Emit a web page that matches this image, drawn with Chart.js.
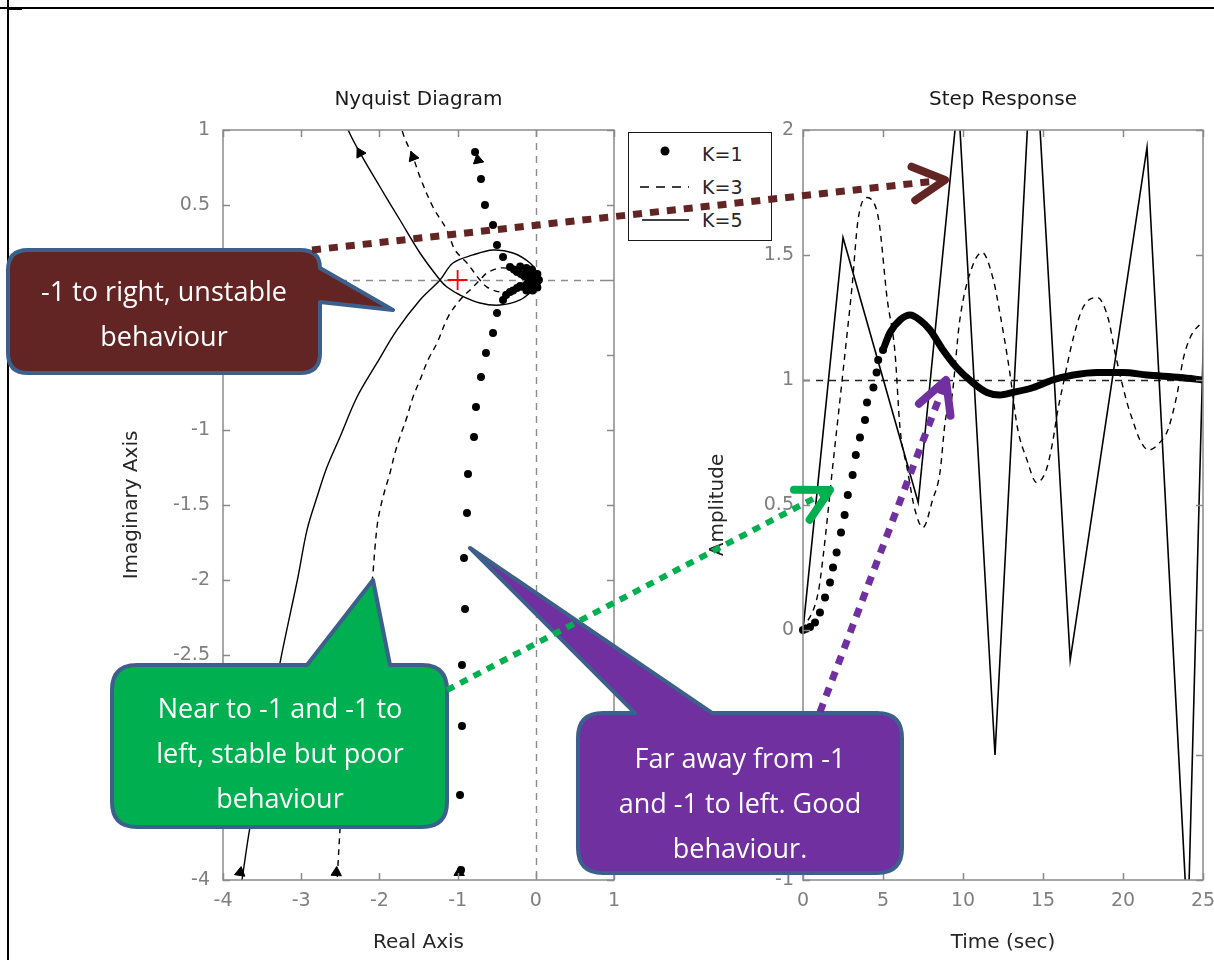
<!DOCTYPE html>
<html>
<head>
<meta charset="utf-8">
<script src="https://cdn.jsdelivr.net/npm/chart.js"></script>
<style>
html,body{margin:0;padding:0;background:#fff;}
body{width:1214px;height:960px;position:relative;overflow:hidden;font-family:"DejaVu Sans",sans-serif;}
canvas{position:absolute;top:0;}
#nyq{left:0;}
#step{left:640px;}
.fr{position:absolute;background:#000;}
#legend{position:absolute;left:628px;top:132px;width:142px;height:107px;border:1.5px solid #1a1a1a;background:#fff;z-index:2;}
#legend span{position:absolute;left:73px;font-size:19px;line-height:22px;color:#262626;font-family:"DejaVu Sans",sans-serif;}
#ov{position:absolute;left:0;top:0;z-index:3;}
#ov text{font-family:"Open Sans",sans-serif;font-size:27px;fill:#fff;text-anchor:middle;dominant-baseline:central;}
</style>
</head>
<body>
<div class="fr" style="left:0;top:7px;width:1214px;height:2px;"></div>
<div class="fr" style="left:7px;top:0;width:2px;height:960px;"></div>
<div class="fr" style="left:8px;top:9px;width:14px;height:1px;"></div>

<canvas id="nyq" width="640" height="960"></canvas>
<canvas id="step" width="574" height="960"></canvas>

<div id="legend">
  <svg width="142" height="107" style="position:absolute;left:0;top:0">
    <circle cx="36" cy="18" r="4.5" fill="#000"/>
    <line x1="11" y1="54" x2="60" y2="54" stroke="#000" stroke-width="1.5" stroke-dasharray="9 7"/>
    <line x1="13" y1="87" x2="60" y2="87" stroke="#000" stroke-width="1.5"/>
  </svg>
  <span style="top:10px">K=1</span>
  <span style="top:43px">K=3</span>
  <span style="top:76px">K=5</span>
</div>

<svg id="ov" width="1214" height="960">
  <g stroke="#3C5F8C" stroke-width="4" stroke-linejoin="round">
    <path fill="#632523" d="M28,250 H300 Q320,250 320,268 L393,310 L320,302 V353 Q320,373 300,373 H28 Q8,373 8,353 V270 Q8,250 28,250 Z"/>
    <path fill="#00B050" d="M137,665 H307 L373,580 L390,665 H422 Q447,665 447,690 V802 Q447,827 422,827 H137 Q112,827 112,802 V690 Q112,665 137,665 Z"/>
    <path fill="#7030A0" d="M603,713 H635 L470,548 L712,713 H877 Q902,713 902,738 V848 Q902,873 877,873 H603 Q578,873 578,848 V738 Q578,713 603,713 Z"/>
  </g>
  <text x="164" y="290">-1 to right, unstable</text>
  <text x="164" y="335">behaviour</text>
  <text x="280" y="707">Near to -1 and -1 to</text>
  <text x="280" y="752">left, stable but poor</text>
  <text x="280" y="797">behaviour</text>
  <text x="740" y="757">Far away from -1</text>
  <text x="740" y="802">and -1 to left. Good</text>
  <text x="740" y="847">behaviour.</text>
  <g id="arrows"></g>
</svg>

<script>
// ---------------- Nyquist data (Real, Imag) ----------------
const nyqK1Re = [-0.777,-0.701,-0.650,-0.547,-0.496,-0.419,-0.330,-0.280,-0.240,-0.190,-0.150,-0.110,-0.074,-0.040,-0.010,0.010,0.020,0.005,-0.020,-0.050,-0.090,-0.125,-0.180,-0.240,-0.290,-0.330,-0.380,-0.419,-0.496,-0.547,-0.637,-0.701,-0.765,-0.790,-0.867,-0.880,-0.918,-0.905,-0.944,-0.944,-0.969,-0.956,-0.060,-0.120,-0.030,-0.080,-0.200,-0.120,-0.050,0.020,0.040,0.020,-0.040,-0.120,-0.200,-0.150,-0.100];
const nyqK1Im = [0.853,0.673,0.500,0.367,0.233,0.153,0.087,0.070,0.053,0.040,0.027,0.018,0.007,0.004,0.000,0.010,-0.010,-0.030,-0.020,-0.030,-0.030,-0.033,-0.045,-0.053,-0.070,-0.080,-0.100,-0.133,-0.220,-0.353,-0.487,-0.647,-0.847,-1.047,-1.293,-1.553,-1.853,-2.193,-2.567,-2.973,-3.433,-3.933,0.030,0.060,-0.050,0.000,0.090,0.080,0.070,0.040,0.000,-0.050,-0.070,-0.070,-0.040,0.030,-0.020];

const nyqK3Re = [-2.56,-2.54,-2.504,-2.44,-2.248,-2.145,-2.082,-2.056,-2.018,-1.954,-1.865,-1.801,-1.737,-1.647,-1.570,-1.481,-1.378,-1.263,-1.123,-0.969,-0.803,-0.714,-0.624,-0.458,-0.266,-0.074,0.0,-0.074,-0.266,-0.458,-0.624,-0.714,-0.880,-1.033,-1.136,-1.315,-1.481,-1.570,-1.711,-1.75];
const nyqK3Im = [-4.2,-4.0,-3.667,-3.2,-2.567,-2.267,-1.953,-1.78,-1.60,-1.447,-1.287,-1.153,-1.047,-0.913,-0.78,-0.667,-0.533,-0.42,-0.247,-0.133,-0.047,0.0,0.047,0.08,0.067,0.027,0.0,-0.027,-0.067,-0.08,-0.047,0.0,0.113,0.2,0.333,0.487,0.687,0.82,1.0,1.2];

const nyqK5Re = [-3.80,-3.744,-3.655,-3.271,-3.041,-2.926,-2.798,-2.670,-2.504,-2.286,-2.031,-1.775,-1.481,-1.225,-1.059,-0.803,-0.547,-0.292,-0.074,0.02,0.02,-0.036,-0.202,-0.458,-0.714,-0.969,-1.136,-1.225,-1.481,-1.737,-1.992,-2.248,-2.40,-2.55];
const nyqK5Im = [-4.15,-3.953,-3.647,-2.553,-1.98,-1.667,-1.447,-1.247,-1.047,-0.78,-0.553,-0.333,-0.133,0.0,0.113,0.167,0.2,0.18,0.113,0.04,-0.03,-0.067,-0.133,-0.167,-0.153,-0.1,-0.047,0.0,0.18,0.40,0.62,0.847,1.0,1.2];

const nyqArrowRe  = [-2.248,-1.570,-0.739,-3.78,-2.55,-0.98];
const nyqArrowIm  = [0.847,0.82,0.80,-3.95,-3.95,-3.95];
const nyqArrowRot = [-29,-21,-11,9,3,0];

const criticalRe = [-1];
const criticalIm = [0];

const nyqReTicks = [-4,-3,-2,-1,0,1];
const nyqImTicks = [1,0.5,0,-0.5,-1,-1.5,-2,-2.5,-3,-3.5,-4];
const nyqRefRe = [0];
const nyqRefIm = [0];

// ---------------- Step response data (time, amplitude) ----------------
const stepK1DotT = [0,0.2,0.44,0.75,1.06,1.375,1.69,1.875,2.1,2.375,2.6,2.8,3.1,3.3,3.56,3.875,4.0,4.4,4.6,4.7,5.0];
const stepK1DotY = [0.0,0.005,0.012,0.03,0.07,0.13,0.19,0.25,0.31,0.39,0.46,0.54,0.62,0.70,0.77,0.84,0.91,0.97,1.03,1.08,1.12];
const stepK1T = [5.0,5.44,6.06,6.7,7.3,7.94,8.75,9.6,10.6,11.5,12.3,13.1,14.4,15.6,16.9,18.4,20.0,21.5,23.6,25];
const stepK1Y = [1.12,1.19,1.24,1.26,1.24,1.20,1.12,1.05,0.99,0.95,0.94,0.95,0.97,1.0,1.02,1.03,1.03,1.02,1.01,1.0];

const stepK3T = [0,0.95,1.25,1.9,2.31,2.73,3.06,3.44,4.0,4.6,4.8,5.25,5.75,6.06,6.5,7.0,7.5,8.1,8.56,8.9,9.3,9.8,10.56,11.2,11.9,12.3,12.9,13.4,14.0,14.6,15.2,15.6,15.9,16.25,16.9,17.5,18.4,19.1,19.5,20.25,20.6,21.06,21.6,22.3,22.8,23.4,23.75,24.2,24.9];
const stepK3Y = [0,0.15,0.29,0.68,0.92,1.17,1.37,1.64,1.73,1.68,1.61,1.33,1.11,0.81,0.65,0.48,0.41,0.52,0.63,0.84,0.93,1.24,1.45,1.51,1.40,1.27,1.04,0.81,0.68,0.59,0.64,0.75,0.87,0.98,1.17,1.29,1.33,1.24,1.11,0.91,0.84,0.76,0.72,0.75,0.80,0.95,1.08,1.17,1.23];

const stepK5T = [0,2.5,7.2,9.7,12.0,14.4,16.7,21.5,24.05,26.4];
const stepK5Y = [0,1.57,0.51,2.13,-0.5,2.47,-0.12,1.93,-1.2,4.5];

const stepTTicks = [0,5,10,15,20,25];
const stepYTicks = [-1,-0.5,0,0.5,1,1.5,2];
const stepRefT = [];
const stepRefY = [1];

// ---------------- helpers ----------------
const zip = (xs, ys) => xs.map((v, i) => ({x: v, y: ys[i]}));
const FONT = '"DejaVu Sans", sans-serif';
Chart.defaults.font.family = FONT;

const boxFrame = {
  id: 'boxFrame',
  beforeDatasetsDraw(chart, _a, o) {
    const {ctx, chartArea: a, scales: {x, y}} = chart;
    ctx.save();
    ctx.beginPath(); ctx.rect(a.left, a.top, a.width, a.height); ctx.clip();
    ctx.setLineDash([7, 6]);
    ctx.lineWidth = 1.4;
    ctx.strokeStyle = o.refColor;
    for (const v of o.refX) {
      const p = Math.round(x.getPixelForValue(v)) + 0.5;
      ctx.beginPath(); ctx.moveTo(p, a.top); ctx.lineTo(p, a.bottom); ctx.stroke();
    }
    for (const v of o.refY) {
      const p = Math.round(y.getPixelForValue(v)) + 0.5;
      ctx.beginPath(); ctx.moveTo(a.left, p); ctx.lineTo(a.right, p); ctx.stroke();
    }
    ctx.restore();
  },
  afterDatasetsDraw(chart) {
    const {ctx, chartArea: a, scales: {x, y}} = chart;
    const L = 7;
    ctx.save();
    ctx.strokeStyle = '#8a8a8a';
    ctx.lineWidth = 1.5;
    ctx.strokeRect(a.left, a.top, a.width, a.height);
    ctx.beginPath();
    for (const t of x.ticks) {
      const p = Math.round(x.getPixelForValue(t.value)) + 0.5;
      ctx.moveTo(p, a.bottom); ctx.lineTo(p, a.bottom - L);
      ctx.moveTo(p, a.top); ctx.lineTo(p, a.top + L);
    }
    for (const t of y.ticks) {
      const p = Math.round(y.getPixelForValue(t.value)) + 0.5;
      ctx.moveTo(a.left, p); ctx.lineTo(a.left + L, p);
      ctx.moveTo(a.right, p); ctx.lineTo(a.right - L, p);
    }
    ctx.stroke();
    ctx.restore();
  }
};

function axis(min, max, ticksArr, fit, title, tickPad, titlePad) {
  return {
    type: 'linear', min, max,
    afterBuildTicks: s => { s.ticks = ticksArr.map(v => ({value: v})); },
    afterFit: s => { fit(s); s.paddingLeft = 0; s.paddingRight = 0; s.paddingTop = 0; s.paddingBottom = 0; },
    grid: {display: false, drawTicks: false},
    border: {display: false},
    ticks: {color: '#7f7f7f', font: {size: 19}, padding: tickPad, maxRotation: 0, autoSkip: false,
            callback: v => String(v)},
    title: {display: true, text: title, color: '#262626', font: {size: 20}, padding: titlePad}
  };
}

function baseOptions(titleText, padRight, xs, ys, frameOpts) {
  return {
    responsive: false, animation: false, events: [],
    layout: {padding: {left: 0, right: padRight, top: 70, bottom: 0}},
    plugins: {
      legend: {display: false},
      tooltip: {enabled: false},
      title: {display: true, text: titleText, fullSize: false, color: '#1a1a1a',
              font: {size: 20, weight: 'normal'}, padding: {top: 18, bottom: 18}},
      boxFrame: frameOpts
    },
    scales: {x: xs, y: ys}
  };
}

// ---------------- Nyquist chart ----------------
new Chart(document.getElementById('nyq'), {
  type: 'scatter',
  data: {
    datasets: [
      {label: 'K=1', data: zip(nyqK1Re, nyqK1Im), showLine: false, pointRadius: 4, pointHoverRadius: 4,
       backgroundColor: '#000', borderColor: '#000', borderWidth: 0},
      {label: 'K=3', data: zip(nyqK3Re, nyqK3Im), showLine: true, pointRadius: 0, pointHoverRadius: 0,
       borderColor: '#000', borderWidth: 1.4, borderDash: [6, 5], tension: 0.35, fill: false},
      {label: 'K=5', data: zip(nyqK5Re, nyqK5Im), showLine: true, pointRadius: 0, pointHoverRadius: 0,
       borderColor: '#000', borderWidth: 1.4, tension: 0.35, fill: false},
      {label: 'dir', data: zip(nyqArrowRe, nyqArrowIm), showLine: false, pointStyle: 'triangle',
       pointRadius: 6, pointRotation: nyqArrowRot, backgroundColor: '#000', borderColor: '#000', borderWidth: 1, clip: false},
      {label: 'critical', data: zip(criticalRe, criticalIm), showLine: false, pointStyle: 'cross',
       pointRadius: 10, borderColor: '#ff0000', borderWidth: 1.8}
    ]
  },
  options: baseOptions('Nyquist Diagram', 26,
    axis(-4, 1, nyqReTicks, s => { s.height = 80; }, 'Real Axis', 10, {top: 0, bottom: 5}),
    axis(-4, 1, nyqImTicks, s => { s.width = 223; }, 'Imaginary Axis', 13, {top: 120, bottom: 0}),
    {refX: nyqRefRe, refY: nyqRefIm, refColor: '#8c8c8c'}),
  plugins: [boxFrame]
});

// ---------------- Step response chart ----------------
new Chart(document.getElementById('step'), {
  type: 'scatter',
  data: {
    datasets: [
      {label: 'K=1', data: zip(stepK1DotT, stepK1DotY), showLine: false, pointRadius: 4, pointHoverRadius: 4,
       backgroundColor: '#000', borderWidth: 0, clip: false},
      {label: 'K=1 (dense)', data: zip(stepK1T, stepK1Y), showLine: true, pointRadius: 0, pointHoverRadius: 0,
       borderColor: '#000', borderWidth: 7, cubicInterpolationMode: 'monotone', fill: false},
      {label: 'K=3', data: zip(stepK3T, stepK3Y), showLine: true, pointRadius: 0, pointHoverRadius: 0,
       borderColor: '#000', borderWidth: 1.4, borderDash: [6, 5], cubicInterpolationMode: 'monotone', fill: false},
      {label: 'K=5', data: zip(stepK5T, stepK5Y), showLine: true, pointRadius: 0, pointHoverRadius: 0,
       borderColor: '#000', borderWidth: 1.6, tension: 0, fill: false}
    ]
  },
  options: baseOptions('Step Response', 11,
    axis(0, 25, stepTTicks, s => { s.height = 80; }, 'Time (sec)', 10, {top: 0, bottom: 5}),
    axis(-1, 2, stepYTicks, s => { s.width = 163; }, 'Amplitude', 9, {top: 66, bottom: 0}),
    {refX: stepRefT, refY: stepRefY, refColor: '#222'}),
  plugins: [boxFrame]
});

// ---------------- annotation arrows (overlay) ----------------
(function () {
  const NS = 'http://www.w3.org/2000/svg';
  const g = document.getElementById('arrows');
  const arrows = [
    {from: [312, 250], to: [945, 180], color: '#632523', w: 7, dash: '9 8'},
    {from: [447, 690], to: [830, 490], color: '#00B050', w: 6, dash: '8 7'},
    {from: [820, 712], to: [946, 380], color: '#7030A0', w: 7, dash: '9 8'}
  ];
  for (const a of arrows) {
    const [x1, y1] = a.from, [x2, y2] = a.to;
    const ang = Math.atan2(y1 - y2, x1 - x2);
    const len = Math.hypot(x2 - x1, y2 - y1);
    const ex = x1 + (x2 - x1) * (len - 8) / len, ey = y1 + (y2 - y1) * (len - 8) / len;
    const ln = document.createElementNS(NS, 'line');
    ln.setAttribute('x1', x1); ln.setAttribute('y1', y1);
    ln.setAttribute('x2', ex); ln.setAttribute('y2', ey);
    ln.setAttribute('stroke', a.color); ln.setAttribute('stroke-width', a.w);
    ln.setAttribute('stroke-dasharray', a.dash);
    g.appendChild(ln);
    const arm = 36, da = 28 * Math.PI / 180;
    const p1 = [x2 + arm * Math.cos(ang + da), y2 + arm * Math.sin(ang + da)];
    const p2 = [x2 + arm * Math.cos(ang - da), y2 + arm * Math.sin(ang - da)];
    const pl = document.createElementNS(NS, 'polyline');
    pl.setAttribute('points', `${p1[0]},${p1[1]} ${x2},${y2} ${p2[0]},${p2[1]}`);
    pl.setAttribute('fill', 'none'); pl.setAttribute('stroke', a.color);
    pl.setAttribute('stroke-width', 8); pl.setAttribute('stroke-linecap', 'round'); pl.setAttribute('stroke-linejoin', 'round');
    g.appendChild(pl);
  }
})();
</script>
</body>
</html>
